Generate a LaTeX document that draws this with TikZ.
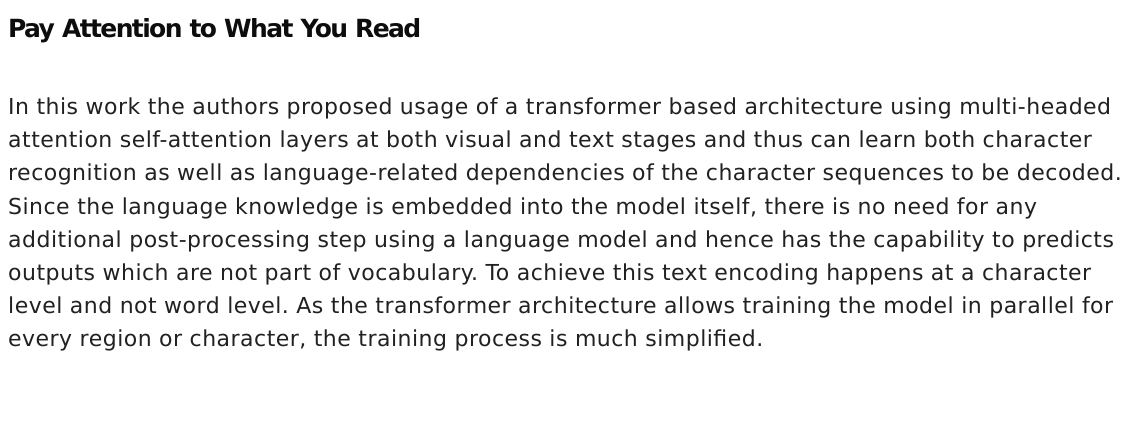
\documentclass[tikz,border=0pt]{standalone}
\usepackage{fontspec}
\setmainfont{DejaVu Sans}
\begin{document}
\frenchspacing
\begin{tikzpicture}[x=1pt,y=-1pt,
  bodyline/.style={anchor=base west,inner sep=0pt,text=black!87,font=\fontsize{22}{26}\selectfont\addfontfeatures{LetterSpace=2.2}},
  titleline/.style={anchor=base west,inner sep=0pt,text=black!95,font=\fontsize{25}{30}\selectfont\addfontfeatures{LetterSpace=-6.5}\bfseries}]
\useasboundingbox[fill=white] (0,0) rectangle (1138,433);
\node[titleline] (title) at (8,38) {Pay Attention to What You Read};
\node[bodyline] (l1) at (8,115) {In this work the authors proposed usage of a transformer based architecture using multi-headed};
\node[bodyline] (l2) at (8,148) {attention self-attention layers at both visual and text stages and thus can learn both character};
\node[bodyline] (l3) at (8,181) {recognition as well as language-related dependencies of the character sequences to be decoded.};
\node[bodyline] (l4) at (8,214) {Since the language knowledge is embedded into the model itself, there is no need for any};
\node[bodyline] (l5) at (8,247) {additional post-processing step using a language model and hence has the capability to predicts};
\node[bodyline] (l6) at (8,280) {outputs which are not part of vocabulary. To achieve this text encoding happens at a character};
\node[bodyline] (l7) at (8,313) {level and not word level. As the transformer architecture allows training the model in parallel for};
\node[bodyline] (l8) at (8,346) {every region or character, the training process is much simplified.};
\end{tikzpicture}
\end{document}
